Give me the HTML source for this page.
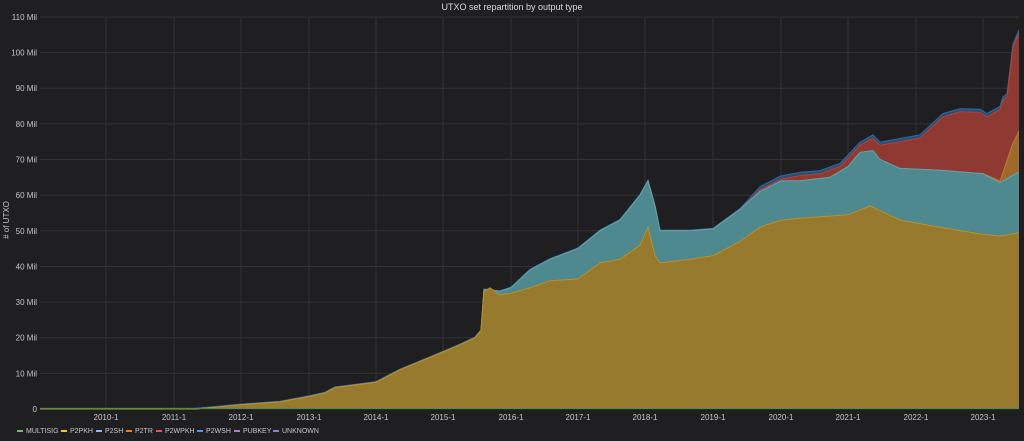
<!DOCTYPE html>
<html><head><meta charset="utf-8"><style>
html,body{margin:0;padding:0;background:#1f1e20;}
body{width:1024px;height:436px;overflow:hidden;font-family:"Liberation Sans",sans-serif;}
svg text{font-family:"Liberation Sans",sans-serif;}
</style></head><body>
<svg id="c" width="1024" height="436" xmlns="http://www.w3.org/2000/svg">
<rect width="1024" height="436" fill="#1f1e20"/>
<text x="512" y="10" fill="#d8d9da" font-size="9" text-anchor="middle">UTXO set repartition by output type</text>
<text transform="translate(9,220) rotate(-90)" fill="#c7c7c7" font-size="8" text-anchor="middle"># of UTXO</text>
<g id="grid"></g>
<g id="areas"></g>
<g id="labels"></g>
<g font-size="7" fill="#c7c7c7">
<rect x="17" y="430" width="6" height="2" fill="#73bf69"/><text x="26" y="433">MULTISIG</text>
<rect x="61" y="430" width="6" height="2" fill="#f2cc0c"/><text x="70" y="433">P2PKH</text>
<rect x="96" y="430" width="6" height="2" fill="#8ab8ff"/><text x="105" y="433">P2SH</text>
<rect x="126" y="430" width="6" height="2" fill="#ff780a"/><text x="135" y="433">P2TR</text>
<rect x="156" y="430" width="6" height="2" fill="#f2495c"/><text x="165" y="433">P2WPKH</text>
<rect x="197" y="430" width="6" height="2" fill="#5794f2"/><text x="206" y="433">P2WSH</text>
<rect x="234" y="430" width="6" height="2" fill="#b877d9"/><text x="243" y="433">PUBKEY</text>
<rect x="273" y="430" width="6" height="2" fill="#8f7fd9"/><text x="282" y="433">UNKNOWN</text>
</g>
</svg>
<script>
var NS="http://www.w3.org/2000/svg";
function Y(v){return 409-3.564*v;}
function el(p,t,a){var e=document.createElementNS(NS,t);for(var k in a)e.setAttribute(k,a[k]);document.getElementById(p).appendChild(e);return e;}
for(var v=0;v<=110;v+=10){var y=Y(v);el("grid","line",{x1:40,x2:1019,y1:y,y2:y,stroke:"#333336","stroke-width":1});
var t=el("labels","text",{x:37,y:y+3,fill:"#c7c7c7","font-size":"8","text-anchor":"end"});t.textContent=v==0?"0":v+" Mil";}
var xs=[106,174,241,309,376,443,511,578,645,713,781,848,916,983];
xs.forEach(function(x,i){el("grid","line",{x1:x,x2:x,y1:17,y2:409,stroke:"#333336"});
var t=el("labels","text",{x:x,y:420,fill:"#c7c7c7","font-size":"8","text-anchor":"middle"});t.textContent=(2010+i)+"-1";});
var yellow=[[40,0],[195,0],[215,.5],[241,1.2],[280,2],[309,3.5],[325,4.5],[335,6],[376,7.5],[400,11],[443,16],[460,18],[475,20],[481,22],[484,33],[490,34],[500,32],[511,32.5],[530,34],[550,36],[578,36.5],[600,41],[620,42],[640,46],[648,51],[655,43],[660,41],[690,42],[713,43],[740,47],[760,51],[781,53],[800,53.5],[848,54.5],[870,57],[900,53],[940,51],[983,49],[1000,48.5],[1019,49.5]];
var cyanT=[[484,33.5],[500,33],[511,34],[530,39],[550,42],[578,45],[600,50],[620,53],[640,60],[648,64],[655,57],[660,50],[690,50],[713,50.5],[740,56],[760,61],[781,64],[800,64],[830,65],[848,68],[860,72],[873,72.5],[880,70],[900,67.5],[940,67],[983,66],[1000,63.5],[1019,66.5]];
var cyan=yellow.filter(function(p){return p[0]<=481;}).concat(cyanT);
var orange=cyan.filter(function(p){return p[0]<=983;}).concat([[1000,64],[1005,68],[1012,74],[1019,78]]);
var redT=[[760,61.5],[781,64.5],[800,65.5],[820,66],[840,68],[860,74],[873,76],[880,74],[900,75],[920,76],[943,82],[960,83.4],[980,83.2],[987,82],[1000,84],[1003,86.7],[1007,87.5],[1013,101.5],[1019,105.5]];
var red=cyan.filter(function(p){return p[0]<=740;}).concat(redT);
var blue=red.map(function(p){return [p[0],p[1]+(p[0]>740?0.9:0.2)];});
function poly(pts,fill,stroke){var s=pts.map(function(p){return p[0]+","+Y(p[1]).toFixed(1);}).join(" ");
el("areas","polygon",{points:s+" 1019,409 40,409",fill:fill});
el("areas","polyline",{points:s,fill:"none",stroke:stroke,"stroke-width":1});}
poly(blue,"#2b4f70","#2a6aa8");
poly(red,"#8e3a33","#b2423a");
poly(orange,"#9d6a2c","#c07a2e");
poly(cyan,"#4e8990","#5fa3ad");
poly(yellow,"#977a2d","#b8922e");
el("areas","line",{x1:40,x2:1019,y1:408.5,y2:408.5,stroke:"#5a8a4a","stroke-width":1});
</script>
</body></html>
